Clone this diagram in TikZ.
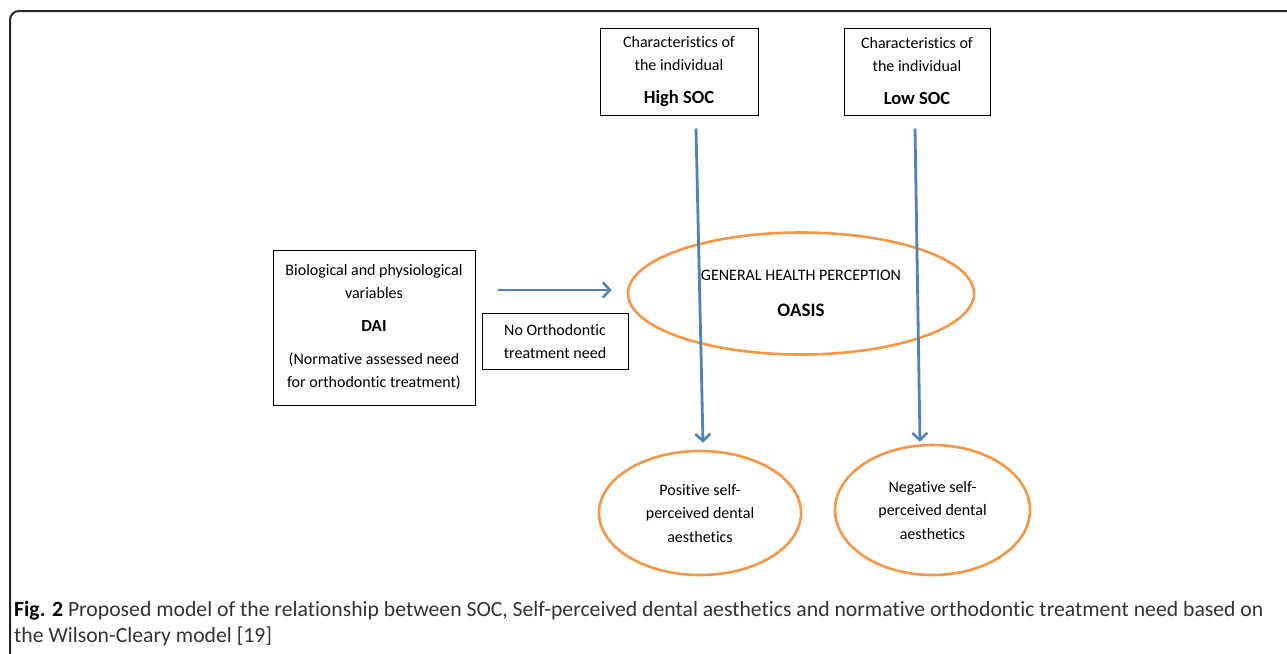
\documentclass[tikz,border=0pt]{standalone}
\usepackage{fontspec}
\setmainfont{Carlito}[Ligatures={NoCommon,NoRare}]
\usetikzlibrary{arrows.meta,shapes.geometric,calc}
\definecolor{arrowblue}{HTML}{4F81BD}
\definecolor{ellorange}{HTML}{F79646}
\definecolor{captext}{HTML}{333333}
\tikzset{
  box/.style={draw=black, line width=1pt, inner sep=0pt, align=center, font=\fontsize{16}{23}\selectfont},
  oval/.style={draw=ellorange, line width=2.6pt, ellipse, inner sep=0pt, align=center, font=\fontsize{16}{23.5}\selectfont},
  flow/.style={draw=arrowblue, line width=2.8pt, -{Straight Barb[length=7pt,width=15pt,line width=2.6pt]}},
  bigbold/.style={font=\fontsize{19}{23}\selectfont\bfseries},
}
\begin{document}
\begin{tikzpicture}[x=1pt,y=-1pt]
\useasboundingbox (0,0) rectangle (1287,653);
\begin{scope}
\clip (0,0) rectangle (1287,653);
\draw[line width=2pt, black!85, rounded corners=9pt] (10,11) rectangle (1300,680);
\end{scope}

% boxes
\node[box, minimum width=158pt, minimum height=87pt] (high) at (679,71.5)
  {Characteristics of\\the individual\\[10pt]{\fontsize{18.5}{23}\selectfont\bfseries High SOC}};
\node[box, minimum width=146pt, minimum height=87pt] (low) at (917,71.5)
  {Characteristics of\\the individual\\[10pt]{\fontsize{18.5}{23}\selectfont\bfseries Low SOC}};
\node[box, minimum width=202pt, minimum height=155pt] (bio) at (374,327.5)
  {Biological and physiological\\variables\\[10pt]{\fontsize{17}{23}\selectfont\bfseries DAI}\\[10pt](Normative assessed need\\for orthodontic treatment)};
\node[box, minimum width=146pt, minimum height=56pt] (noneed) at (555,341)
  {No Orthodontic\\treatment need};

% ellipses
\node[oval, minimum width=346pt, minimum height=122pt] (ghp) at (801,293.5)
  {GENERAL HEALTH PERCEPTION\\[12pt]{\fontsize{19}{23}\selectfont\bfseries OASIS}};
\node[oval, minimum width=202pt, minimum height=124pt] (pos) at (700,513)
  {Positive self-\\perceived dental\\aesthetics};
\node[oval, minimum width=195pt, minimum height=130pt] (neg) at (932.5,510)
  {Negative self-\\perceived dental\\aesthetics};

% connectors
\draw[flow] ($(high.south)+(17,13)$) -- ($(pos.north)+(3,-7)$);
\draw[flow] ($(low.south)+(-2,13)$) -- ($(neg.north)+(-12.5,-2)$);
\draw[flow] ($(bio.east)+(22,-37.5)$) -- ($(ghp.west)+(-15,-3.5)$);

% caption
\node[anchor=west, inner sep=0pt, text=captext, align=left, font=\fontsize{21.7}{26}\selectfont] (cap) at (14,624)
  {{\color{black}\bfseries Fig. 2} Proposed model of the relationship between SOC, Self-perceived dental aesthetics and normative orthodontic treatment need based on\\the Wilson-Cleary model [19]};
\end{tikzpicture}
\end{document}
